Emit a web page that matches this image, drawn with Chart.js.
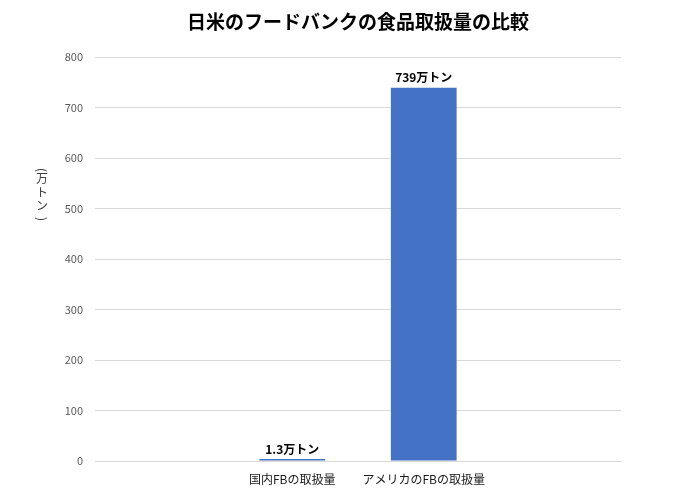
<!DOCTYPE html>
<html>
<head>
<meta charset="utf-8">
<script src="https://cdn.jsdelivr.net/npm/chart.js@4/dist/chart.umd.min.js"></script>
<style>
  html, body { margin: 0; padding: 0; background: #fff; }
  #wrap { width: 675px; height: 494px; }
</style>
</head>
<body>
<div id="wrap"><canvas id="chart"></canvas></div>
<script>
const titleText = '日米のフードバンクの食品取扱量の比較';
const yAxisChars = ['(', '万', 'ト', 'ン', ')'];
const categories = ['', '国内FBの取扱量', 'アメリカのFBの取扱量', ''];
const amounts = [null, 1.3, 739, null];
const unit = '万トン';
const yTicks = [0, 100, 200, 300, 400, 500, 600, 700, 800];

const fontJP = '"Noto Sans CJK JP", "Noto Sans", sans-serif';

// title, vertical y label and value labels
const extraText = {
  id: 'extraText',
  afterDraw(chart) {
    const { ctx, chartArea } = chart;
    ctx.save();
    ctx.fillStyle = '#000';
    ctx.textAlign = 'center';
    ctx.textBaseline = 'middle';
    ctx.font = 'bold 19px ' + fontJP;
    ctx.fillText(titleText, (chartArea.left + chartArea.right) / 2, 22);

    // vertical writing: brackets turned, kana upright
    ctx.font = '12px ' + fontJP;
    ctx.fillStyle = '#404040';
    const ys = [170, 178, 192, 205, 219];
    yAxisChars.forEach((ch, i) => {
      if (ch === '(' || ch === ')') {
        ctx.save();
        ctx.translate(42, ys[i]);
        ctx.rotate(Math.PI / 2);
        ctx.fillText(ch, 0, 0);
        ctx.restore();
      } else {
        ctx.fillText(ch, 42, ys[i]);
      }
    });

    ctx.font = 'bold 12px ' + fontJP;
    ctx.fillStyle = '#000';
    ctx.textBaseline = 'bottom';
    const meta = chart.getDatasetMeta(0);
    meta.data.forEach((bar, i) => {
      if (amounts[i] == null) return;
      ctx.fillText(amounts[i] + unit, bar.x, bar.y - 4);
    });
    ctx.restore();
  },
};

new Chart(document.getElementById('chart'), {
  type: 'bar',
  data: {
    labels: categories,
    datasets: [
      {
        data: amounts,
        backgroundColor: '#4472C4',
        barPercentage: 1,
        categoryPercentage: 0.5,
        minBarLength: 2,
      },
    ],
  },
  options: {
    responsive: true,
    maintainAspectRatio: false,
    animation: false,
    layout: { padding: { top: 57, right: 54, left: 0, bottom: 0 } },
    plugins: {
      legend: { display: false },
      tooltip: { enabled: false },
      title: { display: false },
    },
    scales: {
      x: {
        grid: { display: false },
        border: { display: true, color: '#d9d9d9' },
        ticks: {
          color: '#1a1a1a',
          font: { family: fontJP, size: 12 },
          padding: 3,
          maxRotation: 0,
          autoSkip: false,
        },
        afterFit: (scale) => { scale.height = 33; },
      },
      y: {
        min: 0,
        max: 800,
        afterBuildTicks: (scale) => {
          scale.ticks = yTicks.map((v) => ({ value: v }));
        },
        grid: { color: '#d9d9d9', drawTicks: false },
        border: { display: false },
        ticks: {
          color: '#595959',
          font: { family: fontJP, size: 11 },
          padding: 12,
        },
        afterFit: (scale) => { scale.width = 95; },
      },
    },
  },
  plugins: [extraText],
});
</script>
</body>
</html>
